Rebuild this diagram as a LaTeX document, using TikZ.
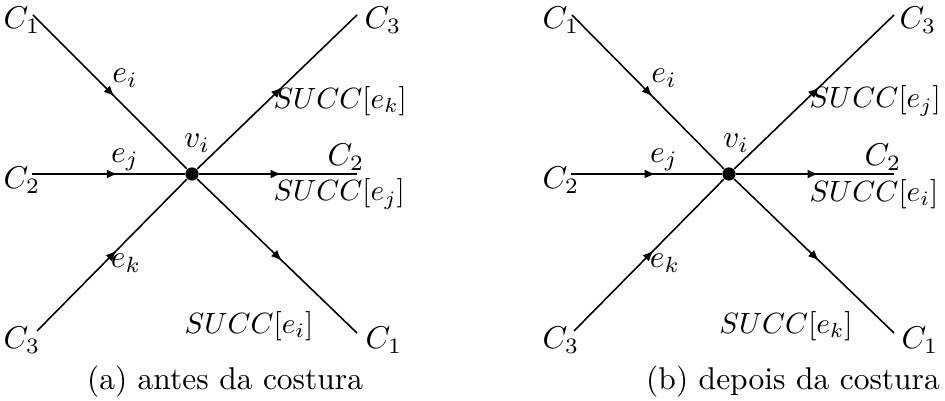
\documentclass[tikz,border=0pt]{standalone}
\usetikzlibrary{arrows.meta,decorations.markings}

\tikzset{
  edge/.style={line width=0.5pt,postaction={decorate},
    decoration={markings,mark=at position #1 with {\arrow{Latex[length=3.4pt,width=2.8pt]}}}},
  edge/.default=0.53,
  vert/.style={circle,fill,inner sep=0pt,minimum size=4.2pt},
  lbl/.style={inner sep=0pt},
  succ/.style={inner sep=0pt,scale=0.93}
}

\begin{document}
\begin{tikzpicture}[x=0.3175pt,y=-0.3175pt]
\useasboundingbox (0,0) rectangle (945,401);
% (a) antes da costura
\begin{scope}
\node[vert] (av) at (192,174) {};
\coordinate (ac1) at (33,15);\coordinate (ac2) at (32,174);\coordinate (ac3) at (37,331);
\coordinate (ad3) at (357,15);\coordinate (ad2) at (357,174);\coordinate (ad1) at (357,333);
\draw[edge] (ac1)--(av);\draw[edge=0.56] (ac2)--(av);\draw[edge] (ac3)--(av);
\draw[edge] (av)--(ad3);\draw[edge=0.52] (av)--(ad2);\draw[edge] (av)--(ad1);
\node[lbl] (al1) at (22,20) {$C_1$};\node[lbl] (al2) at (22,180) {$C_2$};\node[lbl] (al3) at (22,340) {$C_3$};
\node[lbl] (ar3) at (383,20) {$C_3$};\node[lbl] (ar2) at (346,157) {$C_2$};\node[lbl] (ar1) at (384,340) {$C_1$};
\node[lbl] (aei) at (125,78) {$e_i$};\node[lbl] (aej) at (125,160) {$e_j$};\node[lbl] (aek) at (126,263) {$e_k$};
\node[lbl] (avi) at (197,143) {$v_i$};
\node[succ,anchor=west] (as3) at (273,101) {$SUCC[e_k]$};
\node[succ,anchor=west] (as2) at (273,194) {$SUCC[e_j]$};
\node[succ] (as1) at (249,326) {$SUCC[e_i]$};
\node[lbl] (acap) at (225,382) {(a) antes da costura};
\end{scope}
% (b) depois da costura
\begin{scope}[shift={(537,0)}]
\node[vert] (bv) at (192,174) {};
\coordinate (bc1) at (35,15);\coordinate (bc2) at (34,174);\coordinate (bc3) at (37,331);
\coordinate (bd3) at (357,15);\coordinate (bd2) at (357,174);\coordinate (bd1) at (357,333);
\draw[edge] (bc1)--(bv);\draw[edge=0.56] (bc2)--(bv);\draw[edge] (bc3)--(bv);
\draw[edge] (bv)--(bd3);\draw[edge=0.52] (bv)--(bd2);\draw[edge] (bv)--(bd1);
\node[lbl] (bl1) at (24,20) {$C_1$};\node[lbl] (bl2) at (24,180) {$C_2$};\node[lbl] (bl3) at (24,340) {$C_3$};
\node[lbl] (br3) at (381,20) {$C_3$};\node[lbl] (br2) at (346,157) {$C_2$};\node[lbl] (br1) at (383,340) {$C_1$};
\node[lbl] (bei) at (127,78) {$e_i$};\node[lbl] (bej) at (127,160) {$e_j$};\node[lbl] (bek) at (128,263) {$e_k$};
\node[lbl] (bvi) at (199,143) {$v_i$};
\node[succ,anchor=west] (bs3) at (272,101) {$SUCC[e_j]$};
\node[succ,anchor=west] (bs2) at (272,194) {$SUCC[e_i]$};
\node[succ] (bs1) at (249,326) {$SUCC[e_k]$};
\node[lbl] (bcap) at (256,382) {(b) depois da costura};
\end{scope}
\end{tikzpicture}
\end{document}
